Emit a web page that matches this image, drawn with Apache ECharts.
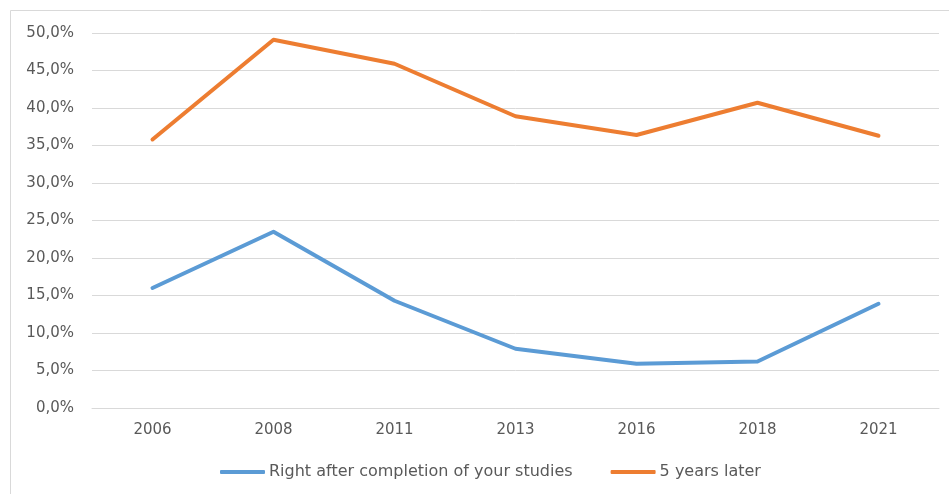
<!DOCTYPE html>
<html>
<head>
<meta charset="utf-8">
<script src="https://cdn.jsdelivr.net/npm/echarts@6/dist/echarts.min.js"></script>
<style>
  html, body { margin: 0; padding: 0; background: #fff; }
  #chart { width: 949px; height: 494px; }
</style>
</head>
<body>
<div id="chart"></div>
<script>
// Survey years
const years = ['2006', '2008', '2011', '2013', '2016', '2018', '2021'];

// Share (%) right after completing studies
const rightAfter = [16.0, 23.5, 14.3, 7.9, 5.9, 6.2, 13.9];

// Share (%) five years later
const fiveYearsLater = [35.8, 49.1, 45.9, 38.9, 36.4, 40.7, 36.3];

const seriesNames = ['Right after completion of your studies', '5 years later'];

const chart = echarts.init(document.getElementById('chart'), null, { renderer: 'canvas' });

const textColor = '#595959';
const gridColor = '#D9D9D9';
const fontFamily = 'DejaVu Sans, sans-serif';

chart.setOption({
  animation: false,
  backgroundColor: '#ffffff',
  graphic: [{
    type: 'rect',
    shape: { x: 10.5, y: 10.5, width: 960, height: 500 },
    style: { fill: 'none', stroke: gridColor, lineWidth: 1 },
    silent: true
  }],
  grid: { left: 92, right: 10, top: 33, bottom: 86, containLabel: false },
  legend: {
    top: 464,
    left: 220,
    padding: 0,
    itemWidth: 45,
    itemHeight: 4,
    itemGap: 38,
    icon: 'roundRect',
    textStyle: { color: textColor, fontSize: 16, fontFamily: fontFamily, padding: [0, 0, 0, -1] },
    data: seriesNames
  },
  xAxis: {
    type: 'category',
    data: years,
    boundaryGap: true,
    axisLine: { show: true, lineStyle: { color: gridColor, width: 1 } },
    axisTick: { show: false },
    axisLabel: { color: textColor, fontSize: 15, fontFamily: fontFamily, margin: 15 }
  },
  yAxis: {
    type: 'value',
    min: 0,
    max: 50,
    interval: 5,
    axisLine: { show: false },
    axisTick: { show: false },
    splitLine: { lineStyle: { color: gridColor, width: 1 } },
    axisLabel: {
      color: textColor,
      fontSize: 15,
      fontFamily: fontFamily,
      margin: 18,
      formatter: v => v.toFixed(1).replace('.', ',') + '%'
    }
  },
  series: [
    {
      name: seriesNames[0],
      type: 'line',
      data: rightAfter,
      symbol: 'none',
      color: '#5B9BD5',
      lineStyle: { width: 4, color: '#5B9BD5', cap: 'round', join: 'round' }
    },
    {
      name: seriesNames[1],
      type: 'line',
      data: fiveYearsLater,
      symbol: 'none',
      color: '#ED7D31',
      lineStyle: { width: 4, color: '#ED7D31', cap: 'round', join: 'round' }
    }
  ]
});
</script>
</body>
</html>
